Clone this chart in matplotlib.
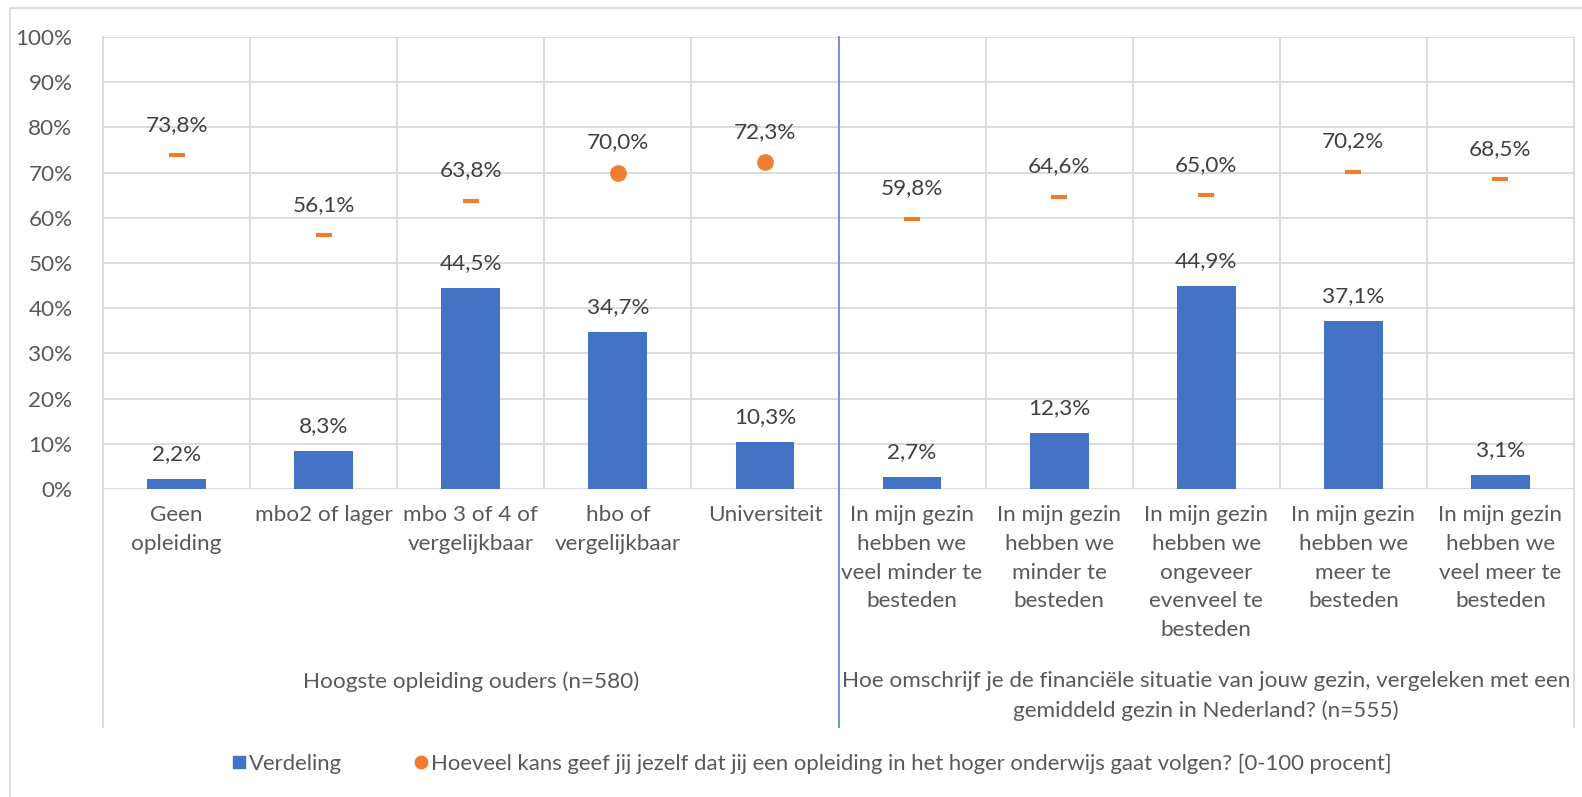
import matplotlib
matplotlib.use('Agg')
import matplotlib.pyplot as plt
from matplotlib.lines import Line2D
from matplotlib.patches import Rectangle
import matplotlib.transforms as mtransforms

plt.rcParams['font.family'] = ['Lato', 'DejaVu Sans']

# ---------------- data ----------------
categories = ['Geen\nopleiding', 'mbo2 of lager', 'mbo 3 of 4 of\nvergelijkbaar',
              'hbo of\nvergelijkbaar', 'Universiteit',
              'In mijn gezin\nhebben we\nveel minder te\nbesteden',
              'In mijn gezin\nhebben we\nminder te\nbesteden',
              'In mijn gezin\nhebben we\nongeveer\nevenveel te\nbesteden',
              'In mijn gezin\nhebben we\nmeer te\nbesteden',
              'In mijn gezin\nhebben we\nveel meer te\nbesteden']
verdeling = [2.2, 8.3, 44.5, 34.7, 10.3, 2.7, 12.3, 44.9, 37.1, 3.1]
kans = [73.8, 56.1, 63.8, 70.0, 72.3, 59.8, 64.6, 65.0, 70.2, 68.5]
groups = ['Hoogste opleiding ouders (n=580)',
          'Hoe omschrijf je de financiële situatie van jouw gezin, vergeleken met een\n'
          'gemiddeld gezin in Nederland? (n=555)']
group_sizes = [5, 5]
series_names = ['Verdeling',
                'Hoeveel kans geef jij jezelf dat jij een opleiding in het hoger onderwijs gaat volgen? [0-100 procent]']

# styles
blue = '#4472C4'
orange = '#ED7D31'
txt = '#404040'
lbl = '#595959'
grid = '#D9D9D9'
kans_markers = ['_', '_', '_', 'o', 'o', '_', '_', '_', '_', '_']
fs = 16.2

W, H = 1582, 797
fig = plt.figure(figsize=(W / 100, H / 100), dpi=100)
ax = fig.add_axes([103 / W, 1 - 489 / H, (1574 - 103) / W, (489 - 37) / H])

x = list(range(len(categories)))
ax.bar(x, [v / 100 for v in verdeling], width=0.4, color=blue, zorder=3)
for xi, v in zip(x, verdeling):
    ax.annotate(f'{v:.1f}%'.replace('.', ','), (xi, v / 100), xytext=(0, 18),
                textcoords='offset points', ha='center', va='center',
                fontsize=fs, color=txt)

for xi, v, m in zip(x, kans, kans_markers):
    if m == '_':
        ax.plot(xi, v / 100, marker='_', ms=11.5, mew=3, color=orange, zorder=4)
    else:
        ax.plot(xi, v / 100, marker='o', ms=11, color=orange, zorder=4)
    ax.annotate(f'{v:.1f}%'.replace('.', ','), (xi, v / 100), xytext=(0, 22),
                textcoords='offset points', ha='center', va='center',
                fontsize=fs, color=txt)

ax.set_xlim(-0.5, len(categories) - 0.5)
ax.set_ylim(0, 1)
ax.set_yticks([i / 10 for i in range(11)])
ax.set_yticklabels([f'{i * 10}%' for i in range(11)], fontsize=fs, color=lbl)
ax.tick_params(axis='y', length=0, pad=22)
ax.set_xticks([])
ax.set_xticks([i + 0.5 for i in range(len(categories) - 1)], minor=True)
ax.tick_params(axis='x', which='minor', length=0)
ax.grid(True, axis='y', color=grid, lw=1.3, zorder=0)
ax.grid(True, axis='x', which='minor', color=grid, lw=1.3, zorder=0)
for s in ax.spines.values():
    s.set_visible(False)

# category labels
trans = mtransforms.blended_transform_factory(ax.transData, fig.transFigure)
for xi, c in zip(x, categories):
    ax.text(xi, 1 - 505 / H, c, transform=trans, ha='center', va='top',
            fontsize=fs, color=lbl, linespacing=1.55)

# group labels
start = 0
for g, n in zip(groups, group_sizes):
    ax.text(start + (n - 1) / 2, 1 - 671 / H, g, transform=trans, ha='center',
            va='top', fontsize=fs, color=lbl, linespacing=1.55)
    start += n

# frame lines of the axis area
y_low = 1 - 727 / H
y_top = 1 - 37 / H
for xb in [-0.5, len(categories) - 0.5]:
    ax.add_line(Line2D([xb, xb], [y_low, y_top], transform=trans, color=grid,
                       lw=1.3, clip_on=False, zorder=1))
ax.add_line(Line2D([group_sizes[0] - 0.5] * 2, [y_low, y_top], transform=trans,
                   color='#6F94D8', lw=1.4, clip_on=False, zorder=5))

# outer chart border
fig.add_artist(Rectangle((10 / W, -0.1), 1.2, 1.1 - 8 / H, transform=fig.transFigure,
                         fill=False, ec=grid, lw=1.3))

# legend
handles = [Line2D([], [], ls='', marker='s', ms=8.5, color=blue),
           Line2D([], [], ls='', marker='o', ms=9, color=orange)]
leg = fig.legend(handles, series_names, loc='center', bbox_to_anchor=(812 / W, 1 - 764 / H),
                 ncol=2, frameon=False, fontsize=15.9, handlelength=0.6, handletextpad=0.15,
                 columnspacing=3.3)
for t in leg.get_texts():
    t.set_color(lbl)

fig.savefig('out.png', dpi=100)
